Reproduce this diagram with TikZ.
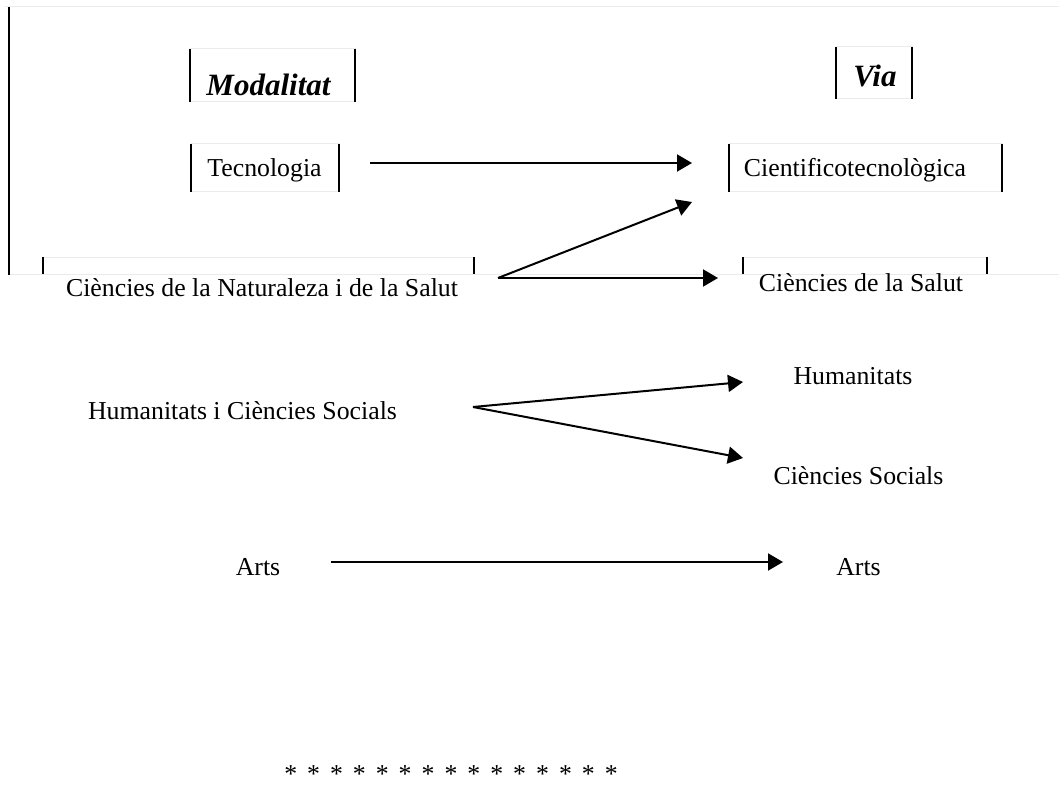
\documentclass[tikz,border=0pt]{standalone}
\usepackage{fontspec}
\setmainfont{Liberation Serif}[Ligatures=NoCommon]
\usetikzlibrary{arrows.meta}
\begin{document}
\begin{tikzpicture}[x=0.5pt,y=-0.5pt,
  frame/.style={draw=black!8, line width=0.5pt, inner sep=0pt, outer sep=0pt},
  bar/.style={line width=1pt, black},
  edge/.style={line width=0.5pt, black!8},
  txt/.style={font=\fontsize{12.9}{15}\selectfont, inner sep=0pt, anchor=base},
  head/.style={font=\fontsize{15.5}{18}\selectfont\bfseries\itshape, inner sep=0pt, anchor=base},
  arr/.style={line width=1pt, -{Triangle[length=7.5pt,width=8.5pt]}}]
\useasboundingbox[fill=white] (0,0) rectangle (1059,791);
% canvas remnants
\coordinate (tl) at (5,7);
\coordinate (tr) at (1059,7);
\coordinate (lt) at (9,7);
\coordinate (lb) at (9,275);
\coordinate (bl) at (9,274);
\coordinate (br) at (1059,274);
\draw[edge] (tl) -- (tr);
\draw[edge] (bl) -- (br);
\draw[bar] (lt) -- (lb);
% boxes
\node[frame, minimum width=82.5pt, minimum height=26.5pt] (bmod) at (272.5,75.5) {};
\node[frame, minimum width=38pt, minimum height=26pt] (bvia) at (874,73) {};
\node[frame, minimum width=74pt, minimum height=24pt] (btec) at (265,168) {};
\node[frame, minimum width=136.5pt, minimum height=24pt] (bcie) at (865.5,168) {};
\node[frame, minimum width=215.5pt, minimum height=8.5pt] (bnat) at (258.5,265.5) {};
\node[frame, minimum width=122pt, minimum height=8.5pt] (bsal) at (865,265.5) {};
\foreach \b in {bmod,bvia,btec,bcie,bnat,bsal}
  \draw[bar] (\b.north west) -- (\b.south west) (\b.north east) -- (\b.south east);
% texts
\node[head] (modalitat) at (268.5,96) {Modalitat};
\node[head] (via) at (875,87) {Via};
\node[txt] (tec) at (264.5,177) {Tecnologia};
\node[txt] (cie) at (855,177) {Cientificotecnològica};
\node[txt] (nat) at (262,296) {Ciències de la Naturaleza i de la Salut};
\node[txt] (sal) at (861,292) {Ciències de la Salut};
\node[txt] (hcs) at (242.5,419) {Humanitats i Ciències Socials};
\node[txt] (hum) at (853,384) {Humanitats};
\node[txt] (cso) at (858.5,484) {Ciències Socials};
\node[txt] (arts1) at (258,575) {Arts};
\node[txt] (arts2) at (858.5,575) {Arts};
\node[txt] (stars) at (451,782) {\spaceskip=5pt * * * * * * * * * * * * * * *};
% arrows
\coordinate (tA) at (370,163);
\coordinate (tB) at (692,163);
\coordinate (nA) at (498,278);
\coordinate (nB) at (692,202);
\coordinate (nC) at (718,278);
\coordinate (hA) at (473,407);
\coordinate (hB) at (743,382);
\coordinate (hC) at (743,458);
\coordinate (aA) at (331,562);
\coordinate (aB) at (783,562);
\draw[arr] (tA) -- (tB);
\draw[arr] (nA) -- (nB);
\draw[arr] (nA) -- (nC);
\draw[arr] (hA) -- (hB);
\draw[arr] (hA) -- (hC);
\draw[arr] (aA) -- (aB);
\end{tikzpicture}
\end{document}
